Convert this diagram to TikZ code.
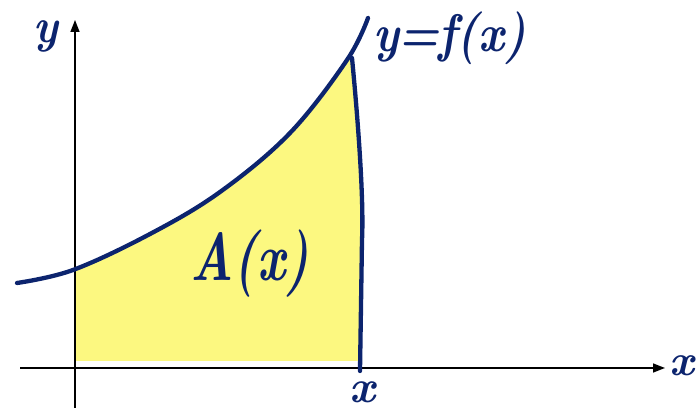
\documentclass[tikz,border=0pt]{standalone}
\usepackage{graphicx}
\usetikzlibrary{arrows.meta}
\definecolor{ink}{RGB}{12,36,110}
\definecolor{hl}{RGB}{252,248,128}
\tikzset{
  axis/.style={draw=black, line width=1.6pt, -{Triangle[length=12pt,width=9pt]}},
  inkline/.style={draw=ink, line width=4.3pt, line cap=round, line join=round},
  hand/.style={text=ink, inner sep=0pt}
}
\newcommand{\hw}[3]{{\fontsize{#1}{#1}\selectfont\bfseries\itshape\scalebox{1}[#2]{#3}}}
\newcommand{\curvepts}{(17,283) (73,270) (150,234) (220,192) (290,133) (347,60) (368,18)}
\begin{document}
\begin{tikzpicture}[x=1pt,y=-1pt]
\useasboundingbox (0,0) rectangle (697,411);
% shaded area
\begin{scope}
  \clip (76,361) -- (76,0) -- (346,0) -- (352,58) .. controls (358,120) and (364,200) .. (362,240) -- (360,361) -- cycle;
  \fill[hl] (17,361) -- plot[smooth,tension=0.6] coordinates {\curvepts} -- (368,361) -- cycle;
\end{scope}
% axes
\coordinate (xs) at (20,368);
\coordinate (xe) at (665,368);
\coordinate (ys) at (75,408);
\coordinate (ye) at (75,20);
\draw[axis] (xs) -- (xe);
\draw[axis] (ys) -- (ye);
% curve
\draw[inkline] plot[smooth,tension=0.6] coordinates {\curvepts};
% vertical line at x
\coordinate (vt) at (352,58);
\coordinate (vb) at (360,371);
\draw[inkline] (vt) .. controls (358,120) and (364,200) .. (362,240) -- (vb);
% labels
\node[hand] (A) at (250,264) {\hw{50}{1.35}{A(x)}};
\node[hand] (f) at (450,38) {\hw{46}{1.15}{y\kern-1pt=\kern-1pt f(x)}};
\node[hand] (ylab) at (46,36) {\hw{44}{1.1}{y}};
\node[hand] (xlab) at (682,366) {\hw{44}{1}{x}};
\node[hand] (xpt) at (362,392) {\hw{46}{1}{x}};
\end{tikzpicture}
\end{document}
